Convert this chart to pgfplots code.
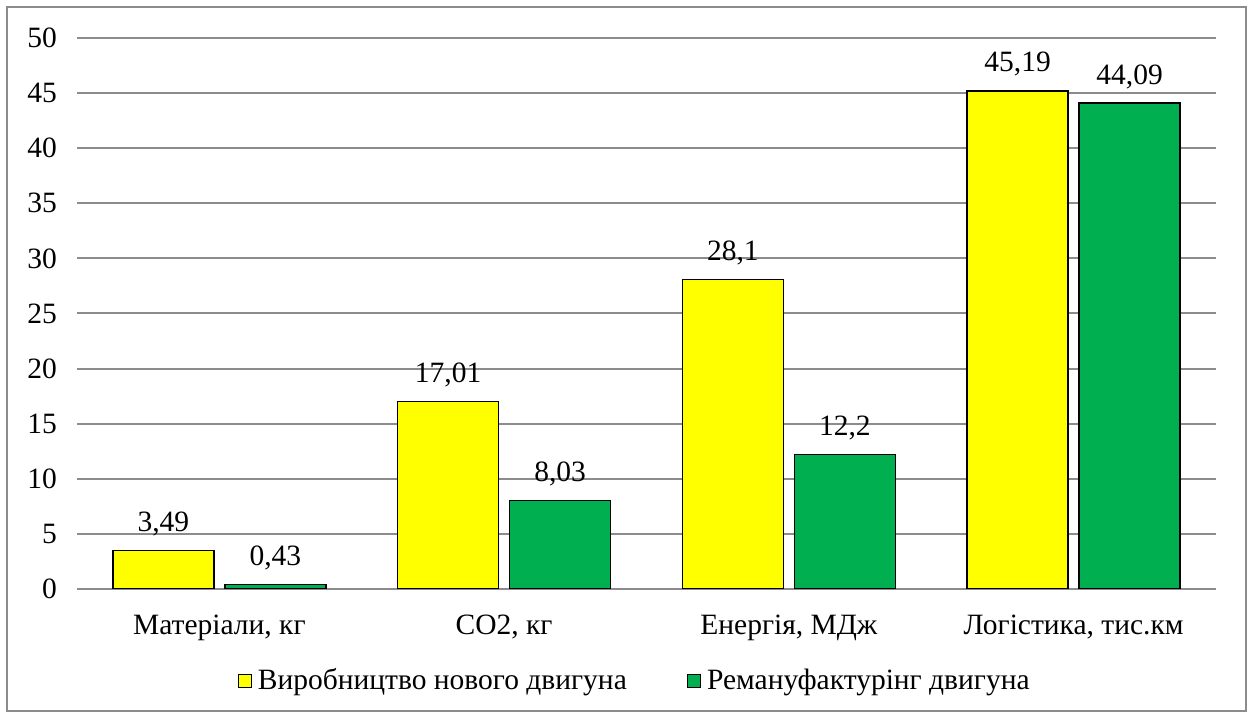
\documentclass[border=0pt]{standalone}
\usepackage{pgfplots}
\pgfplotsset{compat=1.18}
\usepackage{fontspec}
\setmainfont{Liberation Serif}
\definecolor{barY}{HTML}{FFFF00}
\definecolor{barG}{HTML}{00B050}
\definecolor{gridc}{HTML}{8C8C8C}
\newcommand{\cf}{\fontsize{14.75pt}{17pt}\selectfont}
\begin{document}
\cf
\begin{tikzpicture}
\useasboundingbox (0pt,0pt) rectangle (625pt,358.5pt);
\draw[gridc,line width=1pt] (3.5pt,3pt) rectangle (623pt,355pt);
\begin{axis}[
  at={(38.5pt,64pt)}, anchor=south west,
  scale only axis, width=569.5pt, height=275.5pt,
  ybar=5.5pt, bar width=50.5pt,
  xmin=-0.5, xmax=3.5, ymin=0, ymax=50,
  ytick={0,5,...,50},
  xtick={0,1,2,3},
  xticklabels={{Матеріали, кг}, {CO2, кг}, {Енергія, МДж}, {Логістика, тис.км}},
  xticklabel style={yshift=-8pt},
  yticklabel style={xshift=-5pt},
  axis line style={draw=none},
  major tick length=0pt,
  ymajorgrids, grid style={gridc,line width=1pt},
  /pgf/number format/.cd, use comma, assume math mode=true, 1000 sep={},
  /pgfplots/.cd,
  nodes near coords,
  every node near coord/.append style={font=\cf, yshift=2pt, black},
  tick label style={font=\cf},
  legend columns=2,
  legend style={at={(0.4905,-0.167)}, anchor=center, draw=none, fill=none,
    font=\cf, inner xsep=0pt,
    /tikz/every odd column/.append style={column sep=1pt},
    /tikz/every even column/.append style={column sep=28pt}},
  legend image code/.code={\draw[#1,draw=black,line width=0.6pt] (0pt,-3.3pt) rectangle (6.5pt,3.3pt);},
]
\addplot[fill=barY, draw=black, line width=0.75pt] coordinates {(0,3.49) (1,17.01) (2,28.1) (3,45.19)};
\addplot[fill=barG, draw=black, line width=0.75pt] coordinates {(0,0.43) (1,8.03) (2,12.2) (3,44.09)};
\legend{Виробництво нового двигуна, Ремануфактурінг двигуна}
\end{axis}
\end{tikzpicture}
\end{document}
